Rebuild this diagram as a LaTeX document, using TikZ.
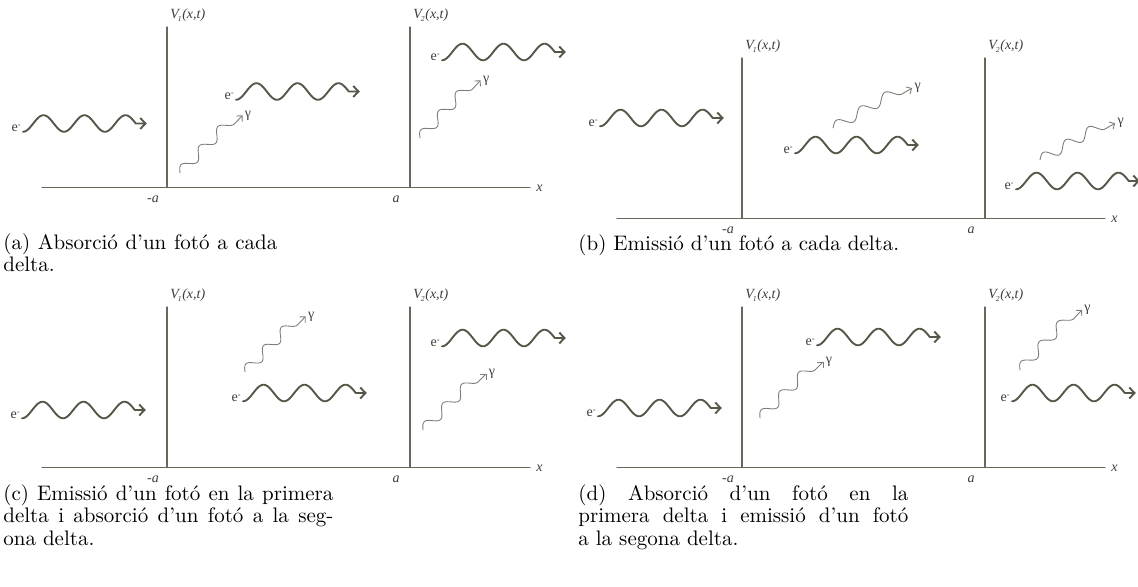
\documentclass[tikz,border=0pt]{standalone}
\usepackage{fontspec}
\usetikzlibrary{arrows.meta,positioning}
\newfontfamily\lblfont{Liberation Serif}
\definecolor{axisc}{RGB}{105,103,90}
\definecolor{elc}{RGB}{88,86,72}
\definecolor{phc}{RGB}{128,126,118}
\definecolor{lblc}{RGB}{60,60,60}
\newcommand\Vlab[1]{{\itshape V\kern-.08em\raisebox{-.45ex}{\fontsize{3.8}{4}\selectfont #1}\kern.05em(x,t)}}
\newcommand\elab{e\raisebox{.6ex}{\fontsize{4.2}{4}\selectfont -}}
\begin{document}
\begin{tikzpicture}[x=.5pt,y=-.5pt,line cap=round,line join=round,
  >={Straight Barb[length=2.6pt,width=5.5pt]},
  ax/.style={draw=axisc,line width=.7pt},
  ew/.style={draw=elc,line width=.95pt},
  gw/.style={draw=phc,line width=.45pt},
  lbl/.style={inner sep=0pt,text=lblc,font=\lblfont\fontsize{7}{8}\selectfont},
  capbox/.style={anchor=north west,inner sep=0pt,align=justify,
    font=\fontsize{10.5}{11.25}\selectfont}]
  \useasboundingbox (0,0) rectangle (1138,587);
  % electron and photon waves both start at their lower left end
  \def\pW#1#2#3{%
    \begin{scope}[shift={(#2,#3)}]
      \coordinate (#1o) at (42,187.5);
      \coordinate (#1x) at (530,187.5);
      \coordinate (#1p) at (167,187.5);
      \coordinate (#1q) at (410,187.5);
      \draw[ax] (#1o) -- (#1x);
      \draw[ax] (#1p) -- ++(0,-160.5) coordinate (#1pt);
      \draw[ax] (#1q) -- ++(0,-160.5) coordinate (#1qt);
      \node[lbl,anchor=west] (#1xl) at (536,188) {\itshape x};
      \node[lbl,anchor=west] (#1v1) at (170,15) {\Vlab{1}};
      \node[lbl,anchor=west] (#1v2) at (413,15) {\Vlab{2}};
      \node[lbl] (#1ma) at (153,199) {\itshape -a};
      \node[lbl] (#1pa) at (396,199) {\itshape a};
    \end{scope}}
  \def\eW#1#2{%
    \begin{scope}[shift={#2}]
      \draw[ew,->] plot[domain=0:112.75,samples=90]
        (\x,{8.3*cos(\x/41*360)}) -- ++(11,0);
      \node[lbl,anchor=east] (#1) at (-2,5) {\elab};
    \end{scope}}
  \def\gW#1#2#3#4{%
    \pgfmathsetmacro\gL{2.75*#4}
    \begin{scope}[shift={#2},rotate=#3]
      \draw[gw,->,>={Straight Barb[length=2pt,width=4pt]}] plot[domain=0:\gL,samples=70]
        (\x,{-5*sin(\x/#4*360)}) -- ++(12,0) coordinate (#1t);
    \end{scope}
    \node[lbl,right=1pt of #1t] (#1) {γ};}
  \pW{a}{0}{0}
  \eW{ea1}{(23,123.5)}
  \eW{ea2}{(236,91.5)}
  \eW{ea3}{(442,52)}
  \gW{ga2}{(180,173)}{46}{26.5}
  \gW{ga3}{(420,138)}{47}{26}
  \pW{b}{575}{31}
  \eW{eb1}{(600,118)}
  \eW{eb2}{(795,145)}
  \eW{eb3}{(1016,181)}
  \gW{gb2}{(833,128)}{30}{27.8}
  \gW{gb3}{(1040,160)}{29.5}{26}
  \pW{c}{0}{280}
  \eW{ec1}{(22,410)}
  \eW{ec2}{(243,393)}
  \eW{ec3}{(442,338)}
  \gW{gc2}{(245,372)}{46}{25.5}
  \gW{gc3}{(423,430)}{45}{26.5}
  \pW{d}{575}{280}
  \eW{ed1}{(598,408)}
  \eW{ed2}{(817,337)}
  \eW{ed3}{(1012,393)}
  \gW{gd2}{(760,418)}{45}{26.5}
  \gW{gd3}{(1020,370)}{47.5}{27}
  \node[capbox,text width=137pt] (capa) at (3,233)
    {(a) Absorció d'un fotó a cada\linebreak delta.};
  \node[capbox,text width=170pt] (capb) at (578,234)
    {(b) Emissió d'un fotó a cada delta.};
  \node[capbox,text width=165pt] (capc) at (3,484)
    {(c) Emissió d'un fotó en la primera\linebreak delta i absorció d'un fotó a la seg-\linebreak ona delta.};
  \node[capbox,text width=165pt] (capd) at (578,484)
    {(d) Absorció d'un fotó en la\linebreak primera delta i emissió d'un fotó\linebreak a la segona delta.};
\end{tikzpicture}
\end{document}
